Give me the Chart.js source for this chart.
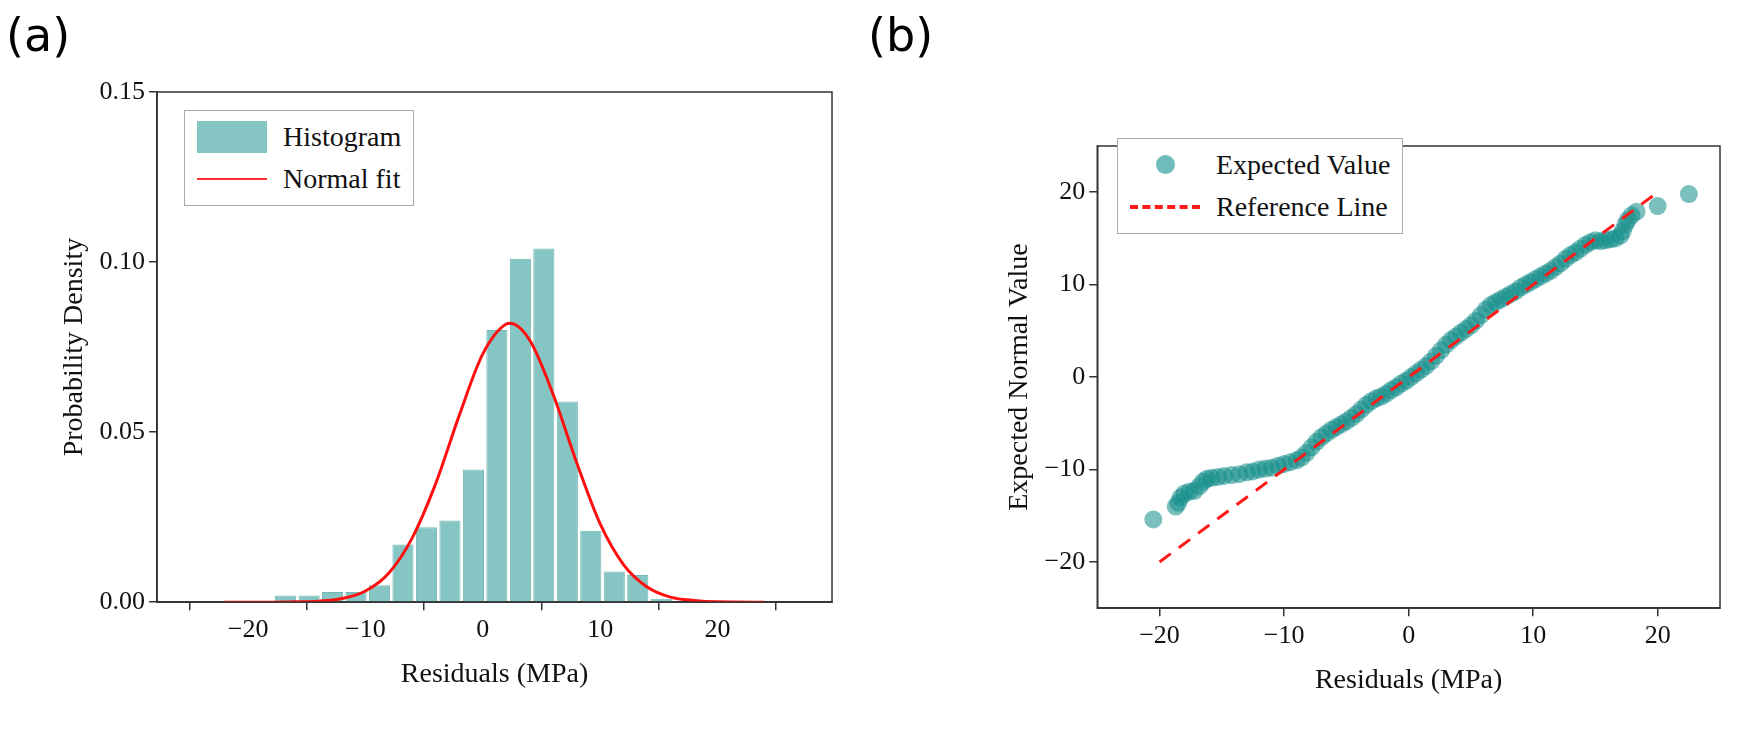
<!DOCTYPE html>
<html>
<head>
<meta charset="utf-8">
<script src="https://cdn.jsdelivr.net/npm/chart.js@4.4.1/dist/chart.umd.min.js"></script>
<style>
  body { margin: 0; background: #fff; width: 1743px; height: 731px; position: relative; overflow: hidden; }
  .wrap { position: absolute; top: 0; height: 731px; }
  .tag { position: absolute; font-family: "DejaVu Sans", sans-serif; font-size: 46px; color: #000; }
  .legend { position: absolute; border: 1.5px solid #aaa; background: #fff; padding: 5px 12px;
            font-family: "Liberation Serif", serif; font-size: 28px; color: #111; }
  .legend div { display: flex; align-items: center; height: 42px; }
  .sw { display: inline-block; width: 70px; margin-right: 16px; }
</style>
</head>
<body>
<div class="wrap" style="left:0;width:870px"><canvas id="histChart" width="870" height="731"></canvas></div>
<div class="wrap" style="left:870px;width:873px"><canvas id="qqChart" width="873" height="731"></canvas></div>
<div class="tag" style="left:6px;top:8px">(a)</div>
<div class="tag" style="left:868px;top:8px">(b)</div>
<div class="legend" style="left:184px;top:110px">
  <div><span class="sw" style="height:32px;background:#85c5c3"></span>Histogram</div>
  <div><span class="sw" style="height:2px;background:#ff3030"></span>Normal fit</div>
</div>
<div class="legend" style="left:1117px;top:138px">
  <div><span class="sw" style="text-align:center"><span style="display:inline-block;width:19px;height:19px;border-radius:50%;background:#6fbdba"></span></span>Expected Value</div>
  <div><span class="sw" style="height:0;border-top:4px dashed #ff1a1a"></span>Reference Line</div>
</div>
<script>
// histogram bins (centres, MPa) and densities
const binCentres = [-16.8, -14.8, -12.8, -10.8, -8.8, -6.8, -4.8, -2.8, -0.8, 1.2, 3.2, 5.2, 7.2, 9.2, 11.2, 13.2, 15.2];
const binDensity = [0.002, 0.002, 0.003, 0.003, 0.005, 0.017, 0.022, 0.024, 0.039, 0.080, 0.101, 0.104, 0.059, 0.021, 0.009, 0.008, 0.001];

// normal fit curve
const fitX = [-22, -18, -16, -14, -12, -10, -8, -6, -4, -2, 0, 2, 2.3, 4, 6, 8, 10, 12, 14, 16, 18, 20, 24];
const fitY = [0, 0, 0.0001, 0.0003, 0.0011, 0.0033, 0.0086, 0.019, 0.035, 0.055, 0.073, 0.0818, 0.082, 0.077, 0.061, 0.041, 0.023, 0.011, 0.0045, 0.0015, 0.0005, 0.0001, 0];

// Q-Q plot points
const residuals = [-20.5, -18.7, -18.5, -18.3, -18.0, -17.6, -17.2, -16.8, -16.5, -16.2, -15.8, -15.3, -14.8, -14.2, -13.6, -13.0, -12.5, -12.0, -11.5, -11.0, -10.5, -10.0, -9.5, -9.0, -8.6, -8.2, -7.8, -7.4, -7.0, -6.6, -6.2, -5.8, -5.4, -5.0, -4.6, -4.2, -3.8, -3.4, -3.0, -2.6, -2.2, -1.8, -1.4, -1.0, -0.6, -0.2, 0.2, 0.6, 1.0, 1.4, 1.8, 2.2, 2.6, 3.0, 3.4, 3.8, 4.2, 4.6, 5.0, 5.4, 5.8, 6.2, 6.6, 7.0, 7.4, 7.8, 8.2, 8.6, 9.0, 9.4, 9.8, 10.2, 10.6, 11.0, 11.4, 11.8, 12.2, 12.6, 13.0, 13.4, 13.8, 14.2, 14.6, 15.0, 15.4, 15.8, 16.2, 16.6, 17.0, 17.2, 17.4, 17.6, 17.9, 18.3, 20.0, 22.5];
const expected = [-15.4, -14.0, -13.6, -13.0, -12.6, -12.4, -12.3, -11.8, -11.3, -11.0, -10.9, -10.8, -10.7, -10.6, -10.5, -10.3, -10.2, -10.0, -9.9, -9.8, -9.6, -9.4, -9.2, -9.0, -8.7, -8.2, -7.6, -7.0, -6.5, -6.1, -5.7, -5.4, -5.1, -4.8, -4.4, -4.0, -3.5, -3.0, -2.6, -2.3, -2.1, -1.8, -1.4, -1.1, -0.7, -0.4, 0.0, 0.4, 0.8, 1.2, 1.7, 2.3, 2.9, 3.5, 4.0, 4.4, 4.8, 5.2, 5.6, 6.1, 6.7, 7.3, 7.8, 8.1, 8.4, 8.7, 9.0, 9.3, 9.7, 10.0, 10.3, 10.6, 10.9, 11.2, 11.5, 11.9, 12.3, 12.8, 13.2, 13.5, 13.9, 14.3, 14.6, 14.8, 14.7, 14.8, 14.9, 15.0, 15.3, 15.8, 16.5, 17.0, 17.5, 17.9, 18.5, 19.8];
const refLineX = [-20, 20];
const refLineY = [-20, 20];

const histXTicks = [-20, -10, 0, 10, 20];
const histYTicks = [0, 0.05, 0.10, 0.15];
const qqTicks = [-20, -10, 0, 10, 20];

const FONT = 'Liberation Serif';
const minus = v => (v < 0 ? '\u2212' + (-v) : v);

// frame round the plot area, like Origin
const framePlugin = {
    id: 'frame',
    afterDraw(chart) {
        const a = chart.chartArea, c = chart.ctx;
        c.save();
        c.strokeStyle = '#333';
        c.lineWidth = 1.5;
        c.strokeRect(a.left, a.top, a.right - a.left, a.bottom - a.top);
        c.restore();
    }
};

function axis(min, max, title, tickList, fmt) {
    return {
        type: 'linear', min: min, max: max,
        afterBuildTicks: s => { s.ticks = tickList.map(v => ({ value: v })); },
        grid: { drawOnChartArea: false, drawTicks: true, tickLength: 8, color: '#333', lineWidth: 1.5 },
        border: { display: true, color: '#333', width: 1.5 },
        ticks: { color: '#111', font: { family: FONT, size: 26 }, padding: 4, callback: fmt },
        title: { display: true, text: title, color: '#111', font: { family: FONT, size: 28 }, padding: { top: 8 } }
    };
}

new Chart(document.getElementById('histChart'), {
    data: {
        datasets: [{
            type: 'bar',
            data: binCentres.map((x, i) => ({ x: x, y: binDensity[i] })),
            backgroundColor: '#85c5c3',
            borderColor: '#74b7b5',
            borderWidth: 1,
            barPercentage: 0.9,
            categoryPercentage: 1.0,
            order: 2
        }, {
            type: 'line',
            data: fitX.map((x, i) => ({ x: x, y: fitY[i] })),
            borderColor: '#ff1010',
            borderWidth: 3,
            pointRadius: 0,
            cubicInterpolationMode: 'monotone',
            order: 1
        }]
    },
    options: {
        responsive: false,
        animation: false,
        layout: { padding: { left: 50, right: 38, top: 92, bottom: 36 } },
        plugins: { legend: { display: false }, tooltip: { enabled: false } },
        scales: {
            x: axis(-22, 24, 'Residuals (MPa)', histXTicks, minus),
            y: axis(0, 0.15, 'Probability Density', histYTicks, v => v.toFixed(2))
        }
    },
    plugins: [framePlugin]
});

new Chart(document.getElementById('qqChart'), {
    type: 'scatter',
    data: {
        datasets: [{
            data: residuals.map((x, i) => ({ x: x, y: expected[i] })),
            backgroundColor: 'rgba(16, 140, 137, 0.55)',
            borderWidth: 0,
            pointRadius: 9,
            order: 2
        }, {
            type: 'line',
            data: refLineX.map((x, i) => ({ x: x, y: refLineY[i] })),
            borderColor: '#ff1a1a',
            borderWidth: 3,
            borderDash: [14, 10],
            pointRadius: 0,
            order: 1
        }]
    },
    options: {
        responsive: false,
        animation: false,
        layout: { padding: { left: 125, right: 23, top: 146, bottom: 30 } },
        plugins: { legend: { display: false }, tooltip: { enabled: false } },
        scales: {
            x: axis(-25, 25, 'Residuals (MPa)', qqTicks, minus),
            y: axis(-25, 25, 'Expected Normal Value', qqTicks, minus)
        }
    },
    plugins: [framePlugin]
});
</script>
</body>
</html>
